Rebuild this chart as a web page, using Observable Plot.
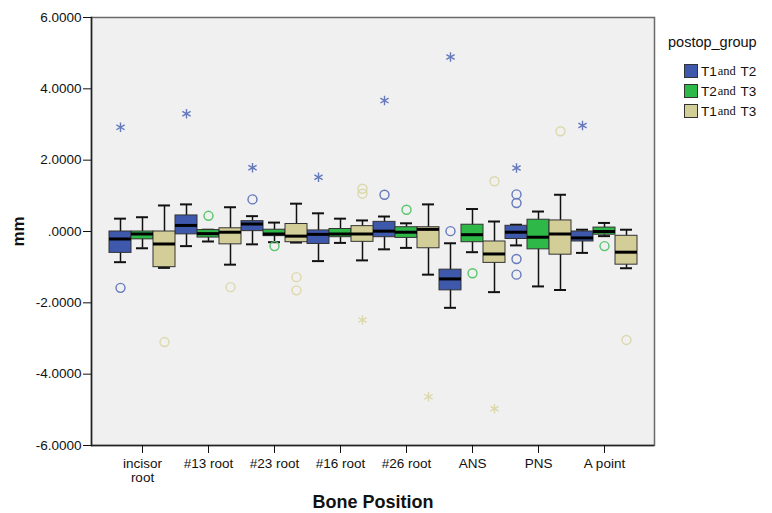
<!DOCTYPE html>
<html>
<head>
<meta charset="utf-8">
<script src="https://cdn.jsdelivr.net/npm/d3@7"></script>
<script src="https://cdn.jsdelivr.net/npm/@observablehq/plot@0.6"></script>
<style>
  body { margin: 0; background: #fff; font-family: "Liberation Sans", Arial, sans-serif; }
  #wrap { position: relative; width: 772px; height: 513px; }
  #chart { position: absolute; left: 0; top: 0; }
  #legend { position: absolute; left: 668px; top: 34px; font-size: 14px; color: #111; }
  #legend .title { font-size: 14.5px; margin-bottom: 11px; }
  #legend .item { display: flex; align-items: center; height: 20px; margin-left: 16px; font-size: 13.5px; }
  #legend .sw { width: 12px; height: 12px; border: 1px solid #333; margin-right: 3px; }
  #legend .and { font-family: "Liberation Serif", "DejaVu Serif", serif; font-size: 12.5px; margin: 0 1px; }
  g[aria-label="y-axis label"] text { font-weight: bold; font-size: 17px; }
  g[aria-label="x-axis label"] text { font-weight: bold; font-size: 18px; }
</style>
</head>
<body>
<div id="wrap">
  <div id="chart"></div>
  <div id="legend"></div>
</div>
<script>
const categories = ["incisor\nroot", "#13 root", "#23 root", "#16 root", "#26 root", "ANS", "PNS", "A point"];
const groups = ["T1 and T2", "T2 and T3", "T1 and T3"];
const groupColors = ["#3E58AC", "#2EB848", "#D3CE97"];
const yTicks = [-6, -4, -2, 0, 2, 4, 6];

// [whisker low, Q1, median, Q3, whisker high] per category
const statsT1T2 = [
  [-0.86, -0.60, -0.21, 0.00, 0.36],
  [-0.41, -0.08, 0.17, 0.45, 0.76],
  [-0.36, 0.01, 0.21, 0.29, 0.43],
  [-0.83, -0.35, -0.08, 0.03, 0.51],
  [-0.50, -0.16, 0.01, 0.27, 0.42],
  [-2.14, -1.65, -1.33, -1.07, -0.33],
  [-0.39, -0.21, -0.02, 0.16, 0.19],
  [-0.60, -0.28, -0.18, 0.00, 0.05]
];
const statsT2T3 = [
  [-0.47, -0.22, -0.07, 0.00, 0.40],
  [-0.28, -0.17, -0.06, 0.04, 0.05],
  [-0.30, -0.13, -0.07, 0.05, 0.25],
  [-0.32, -0.16, -0.07, 0.07, 0.36],
  [-0.46, -0.18, -0.02, 0.12, 0.23],
  [-0.58, -0.30, -0.09, 0.19, 0.63],
  [-1.54, -0.50, -0.16, 0.33, 0.56],
  [-0.13, -0.09, 0.00, 0.11, 0.24]
];
const statsT1T3 = [
  [-1.02, -1.00, -0.35, 0.00, 0.73],
  [-0.93, -0.36, -0.02, 0.09, 0.68],
  [-0.31, -0.30, -0.13, 0.21, 0.78],
  [-0.81, -0.29, -0.07, 0.15, 0.31],
  [-1.21, -0.47, 0.06, 0.12, 0.76],
  [-1.70, -0.88, -0.63, -0.28, 0.28],
  [-1.64, -0.65, -0.07, 0.31, 1.03],
  [-1.03, -0.93, -0.58, -0.12, 0.05]
];

// outliers (circles): category index, group index, value
const circleCat   = [0, 2, 4, 5, 6, 6, 6, 6,   1, 2, 4, 5, 7,   0, 1, 2, 2, 3, 3, 5, 6, 7];
const circleGroup = [0, 0, 0, 0, 0, 0, 0, 0,   1, 1, 1, 1, 1,   2, 2, 2, 2, 2, 2, 2, 2, 2];
const circleValue = [-1.58, 0.90, 1.03, 0.01, 1.04, 0.80, -0.77, -1.21,
                     0.44, -0.41, 0.61, -1.17, -0.41,
                     -3.10, -1.56, -1.28, -1.65, 1.20, 1.06, 1.41, 2.81, -3.04];
// extremes (stars)
const starCat   = [0, 1, 2, 3, 4, 5, 6, 7,   3, 4, 5];
const starGroup = [0, 0, 0, 0, 0, 0, 0, 0,   2, 2, 2];
const starValue = [2.92, 3.30, 1.79, 1.52, 3.67, 4.89, 1.78, 2.97,   -2.48, -4.63, -4.97];

const key = (ci, gi) => categories[ci] + "|" + groups[gi];
const keys = categories.flatMap((c, ci) => groups.map((g, gi) => key(ci, gi)));
const tickKeys = categories.map((c, ci) => key(ci, 1));

const allStats = [statsT1T2, statsT2T3, statsT1T3];
const boxes = [];
allStats.forEach((arr, gi) => arr.forEach((s, ci) => {
  boxes.push({key: key(ci, gi), group: groups[gi], low: s[0], q1: s[1], med: s[2], q3: s[3], high: s[4]});
}));
const circles = circleValue.map((v, i) => ({key: key(circleCat[i], circleGroup[i]), group: groups[circleGroup[i]], value: v}));
const stars = starValue.map((v, i) => ({key: key(starCat[i], starGroup[i]), group: groups[starGroup[i]], value: v}));

const lighter = groupColors.map(c => d3.interpolateRgb(c, "#ffffff")(0.2));

const chart = Plot.plot({
  width: 660,
  height: 513,
  marginLeft: 91,
  marginRight: 6,
  marginTop: 17,
  marginBottom: 68,
  style: {fontFamily: "Liberation Sans, Arial, sans-serif", fontSize: "13px", background: "transparent", color: "#111"},
  x: {type: "band", domain: keys, paddingInner: 0, paddingOuter: 0.48, axis: null},
  y: {domain: [-6, 6], axis: null},
  color: {domain: groups, range: groupColors},
  marks: [
    Plot.frame({fill: "#F0F0F0", stroke: "#6a6a6a", strokeWidth: 1.5}),
    Plot.ruleY([-6], {stroke: "#222", strokeWidth: 1.5}),
    Plot.frame({anchor: "left", stroke: "#222", strokeWidth: 1.5}),
    Plot.axisY(yTicks, {
      tickSize: 8, tickPadding: 2, fontSize: 13.5,
      tickFormat: d => d === 0 ? ".0000" : d.toFixed(4),
      label: "mm", labelAnchor: "center", labelOffset: 80, labelArrow: "none"
    }),
    Plot.axisX(tickKeys, {
      tickSize: 8, tickPadding: 5, fontSize: 13.5, lineHeight: 1.0,
      tickFormat: k => k.split("|")[0],
      label: "Bone Position", labelAnchor: "center", labelOffset: 62, labelArrow: "none"
    }),
    Plot.ruleX(boxes, {x: "key", y1: "low", y2: "high", stroke: "#111", strokeWidth: 1.5}),
    Plot.tickY(boxes, {x: "key", y: "low", stroke: "#111", strokeWidth: 2, insetLeft: 5, insetRight: 5}),
    Plot.tickY(boxes, {x: "key", y: "high", stroke: "#111", strokeWidth: 2, insetLeft: 5, insetRight: 5}),
    Plot.barY(boxes, {x: "key", y1: "q1", y2: "q3", fill: "group", stroke: "#333", strokeWidth: 1, inset: 0}),
    Plot.tickY(boxes, {x: "key", y: "med", stroke: "#000", strokeWidth: 3}),
    Plot.dot(circles, {x: "key", y: "value", r: 4.5, stroke: d => lighter[groups.indexOf(d.group)], fill: "none", strokeWidth: 1.4}),
    Plot.dot(stars, {x: "key", y: "value", r: 4.5, symbol: "asterisk", stroke: d => lighter[groups.indexOf(d.group)], strokeWidth: 1.4})
  ]
});
document.getElementById("chart").appendChild(chart);

// legend
const legend = document.getElementById("legend");
legend.innerHTML = '<div class="title">postop_group</div>' + groups.map((g, i) => {
  const parts = g.split(" and ");
  return `<div class="item"><span class="sw" style="background:${groupColors[i]}"></span>${parts[0]}<span class="and">and</span>&nbsp;${parts[1]}</div>`;
}).join("");
</script>
</body>
</html>
